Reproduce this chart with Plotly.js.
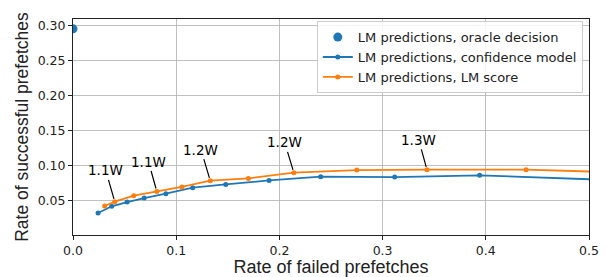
<!DOCTYPE html>
<html>
<head>
<meta charset="utf-8">
<script src="https://cdn.plot.ly/plotly-3.0.1.min.js"></script>
<style>html,body{margin:0;padding:0;background:#fff}#chart{width:606px;height:277px}</style>
</head>
<body>
<div id="chart"></div>
<script>
var oracleX = [0.0];
var oracleY = [0.2955];

var confX = [0.0243, 0.0375, 0.0524, 0.069, 0.090, 0.116, 0.148, 0.190, 0.240, 0.3117, 0.394, 0.60];
var confY = [0.0324, 0.042, 0.048, 0.0538, 0.060, 0.0686, 0.0733, 0.079, 0.0843, 0.0838, 0.0862, 0.0754];

var lmX = [0.0307, 0.0405, 0.0589, 0.0812, 0.1055, 0.133, 0.170, 0.214, 0.275, 0.343, 0.439, 0.60];
var lmY = [0.0424, 0.0486, 0.0571, 0.0633, 0.0696, 0.0786, 0.0819, 0.090, 0.0938, 0.0943, 0.0943, 0.0875];

var labelText = ["1.1W", "1.1W", "1.2W", "1.2W", "1.3W"];
var labelIdx = [1, 3, 5, 7, 9];
var labelTextX = [0.0317, 0.0731, 0.124, 0.2051, 0.335];
var labelTextY = [0.0933, 0.106, 0.1229, 0.1333, 0.137];

var blue = '#1f77b4', orange = '#ff7f0e';

var traces = [
  {x: oracleX, y: oracleY, mode: 'markers', type: 'scatter', name: 'LM predictions, oracle decision',
   marker: {color: blue, size: 9}},
  {x: confX, y: confY, mode: 'lines+markers', type: 'scatter', name: 'LM predictions, confidence model',
   line: {color: blue, width: 1.8}, marker: {color: blue, size: 5}},
  {x: lmX, y: lmY, mode: 'lines+markers', type: 'scatter', name: 'LM predictions, LM score',
   line: {color: orange, width: 1.8}, marker: {color: orange, size: 5}}
];

var annotations = labelText.map(function(t, i) {
  return {
    x: lmX[labelIdx[i]], y: lmY[labelIdx[i]], xref: 'x', yref: 'y',
    ax: labelTextX[i], ay: labelTextY[i], axref: 'x', ayref: 'y',
    text: t, showarrow: true, arrowhead: 0, arrowwidth: 1.2, arrowcolor: '#000',
    standoff: 3, startstandoff: 0,
    font: {family: 'DejaVu Sans', size: 13.5, color: '#000'}
  };
});

var axisCommon = {
  showline: true, mirror: true, linecolor: '#222', linewidth: 1,
  showgrid: true, gridcolor: '#b0b0b0', gridwidth: 0.8,
  ticks: 'outside', ticklen: 4, tickcolor: '#222', tickwidth: 1,
  zeroline: false,
  tickfont: {family: 'DejaVu Sans', size: 12.5, color: '#222'}
};

var layout = {
  width: 606, height: 277,
  margin: {l: 73, r: 17, t: 19, b: 42},
  paper_bgcolor: '#fff', plot_bgcolor: '#fff',
  showlegend: true,
  legend: {x: 0.988, y: 0.99, xanchor: 'right', yanchor: 'top',
    bgcolor: 'rgba(255,255,255,0.85)', bordercolor: '#cccccc', borderwidth: 1,
    font: {family: 'DejaVu Sans', size: 13, color: '#222'}, tracegroupgap: 0},
  xaxis: Object.assign({}, axisCommon, {
    range: [0, 0.5], dtick: 0.1, tickformat: '.1f',
    title: {text: 'Rate of failed prefetches', font: {family: 'Liberation Sans', size: 18, color: '#222'}, standoff: 0}
  }),
  yaxis: Object.assign({}, axisCommon, {
    range: [0.001, 0.3096], dtick: 0.05, tickformat: '.2f',
    title: {text: 'Rate of successful prefetches', font: {family: 'Liberation Sans', size: 17.5, color: '#222'}, standoff: 4}
  }),
  annotations: annotations
};

Plotly.newPlot('chart', traces, layout, {displayModeBar: false, staticPlot: true});
</script>
</body>
</html>
